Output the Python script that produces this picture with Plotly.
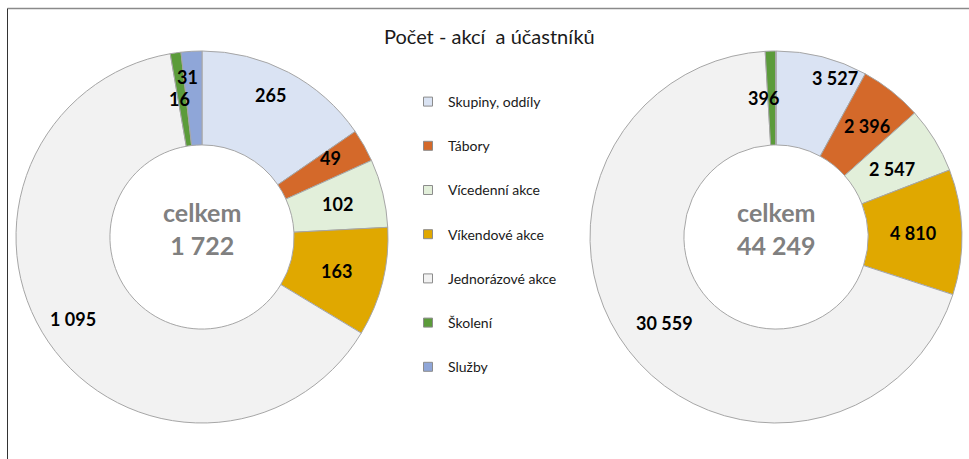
import math
import plotly.graph_objects as go

categories = ["Skupiny, oddíly", "Tábory", "Vícedenní akce", "Víkendové akce",
              "Jednorázové akce", "Školení", "Služby"]
akce = [265, 49, 102, 163, 1095, 16, 31]
ucastnici = [3527, 2396, 2547, 4810, 30559, 396, 14]
total_akce = 1722
total_ucastnici = 44249
colors = ["#DAE3F3", "#D4692A", "#E2EFDA", "#E0A800", "#F2F2F2", "#5B9B3A", "#8FA6D8"]
title_text = "Počet - akcí  a účastníků"

W, H = 969, 459
R_OUT = 186
HOLE = 0.495

# label placement tweaks (radius in px, angle shift in degrees, x shift px)
left_label_pos = [(158, -2, 0), (151, -2, 0), (139, 0, 0), (139, 0, 0), (153, 2, 0), (139, 0, -3), (160, 0, -5)]
right_label_pos = [(170, 6, 0), (144, 1, 0), (134, 1, 0), (137, 0, 0), (141, 0, 0), (139, 0, -8), (139, 0, 0)]


def fmt(v):
    return f"{v:,}".replace(",", " ")


def px_dom(cx, cy, r):
    return dict(x=[(cx - r) / W, (cx + r) / W], y=[1 - (cy + r) / H, 1 - (cy - r) / H])


fig = go.Figure()
pie_common = dict(
    labels=categories, sort=False, direction="clockwise", rotation=0, hole=HOLE,
    marker=dict(colors=colors, line=dict(color="#A6A6A6", width=1)),
    textinfo="none", showlegend=False, hoverinfo="label+value",
)

pies = [(202, 237, akce, total_akce, left_label_pos),
        (776, 237, ucastnici, total_ucastnici, right_label_pos)]

for cx, cy, vals, tot_label, lpos in pies:
    fig.add_trace(go.Pie(values=vals, domain=px_dom(cx, cy, R_OUT), **pie_common))
    tot = sum(vals)
    cum = 0
    for v, (r, da, xs) in zip(vals, lpos):
        mid = (cum + v / 2) / tot * 360 + da
        cum += v
        if v / tot < 0.002:
            continue
        x = cx + r * math.sin(math.radians(mid)) + xs
        y = cy - r * math.cos(math.radians(mid))
        fig.add_annotation(x=x / W, y=1 - y / H, xref="paper", yref="paper",
                           xanchor="center", yanchor="middle", text=fmt(v), showarrow=False,
                           font=dict(family="Lato", size=18, color="black", weight="bold"))
    # centre text
    fig.add_annotation(x=cx / W, y=1 - 229 / H, xref="paper", yref="paper",
                       xanchor="center", yanchor="middle",
                       text=f"celkem<br>{fmt(tot_label)}", showarrow=False,
                       font=dict(family="Lato", size=25, color="#808080", weight="bold"),
                       align="center")

# legend entries
for name, c in zip(categories, colors):
    fig.add_trace(go.Scatter(x=[None], y=[None], mode="markers", name=name,
                             legendgroup=name,
                             marker=dict(symbol="square", size=9, color=c,
                                         line=dict(color="#8C8C8C", width=1))))

# chart border
fig.add_shape(type="line", xref="paper", yref="paper", x0=7.5 / W, x1=1.01,
              y0=1 - 8.5 / H, y1=1 - 8.5 / H, line=dict(color="#8A8A8A", width=1.5))
fig.add_shape(type="line", xref="paper", yref="paper", x0=7.5 / W, x1=7.5 / W,
              y0=-0.01, y1=1 - 8.5 / H, line=dict(color="#333333", width=1))

fig.update_layout(
    width=W, height=H, margin=dict(l=0, r=0, t=0, b=0),
    paper_bgcolor="white", plot_bgcolor="white",
    title=dict(text=title_text, x=0.505, xanchor="center", y=1 - 37 / H, yanchor="middle",
               font=dict(family="Lato", size=20, color="#1a1a1a")),
    xaxis=dict(visible=False), yaxis=dict(visible=False),
    legend=dict(x=408 / W, xanchor="left", y=1 - 86 / H, yanchor="top",
                font=dict(family="Lato", size=14, color="#1a1a1a"),
                tracegroupgap=23, itemwidth=30, bgcolor="rgba(0,0,0,0)"),
)
fig.write_html("out.html", config={"displayModeBar": False},
               post_script="document.body.style.margin='0px';")
